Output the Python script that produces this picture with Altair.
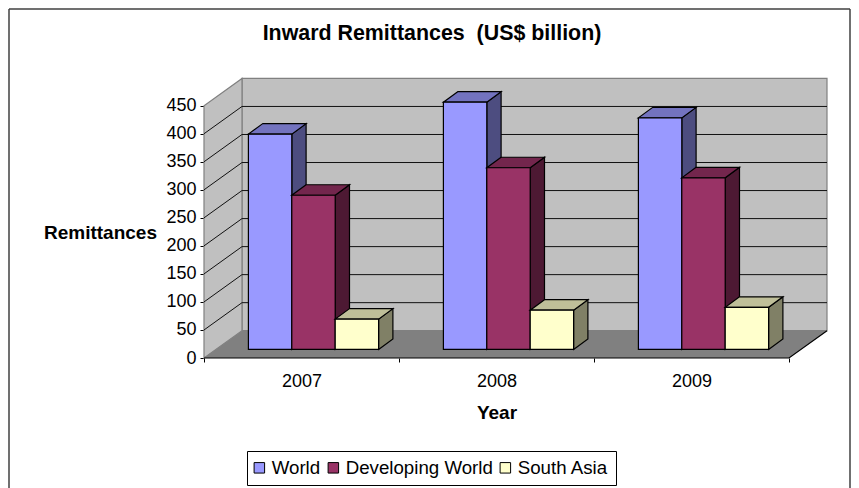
import altair as alt
import pandas as pd

years = [2007, 2008, 2009]
series = ["World", "Developing World", "South Asia"]
world = [384, 441, 413]
developing = [275, 324, 306]
south_asia = [54, 70, 75]
values = [world, developing, south_asia]
front_colors = ["#9999FF", "#993366", "#FFFFCC"]
top_colors = ["#7373BF", "#73264D", "#BFBF99"]
side_colors = ["#4D4D80", "#4D1933", "#808066"]
y_ticks = list(range(0, 451, 50))

FONT = "Liberation Sans"
W, H = 623, 279
CAT = 195.0                # px per category
PX = 28.03 / 50            # px per value unit
X_MAX = W / CAT
Y_MAX = H / PX
WALL_X, WALL_Y = 38 / CAT, 27.3 / PX      # depth of the floor
OFF_X, OFF_Y = 12 / CAT, 8.6 / PX         # bars' inset from the floor's front edge
BAR_W = 43.4 / CAT
BAR_X, BAR_Y = 14.3 / CAT, 10.5 / PX      # depth of a bar
GAP = (1 - 3 * BAR_W) / 2

x_scale = alt.Scale(domain=[0, X_MAX], nice=False, zero=False)
y_scale = alt.Scale(domain=[0, Y_MAX], nice=False, zero=False)
x_axis = alt.Axis(
    values=[0, 0.5, 1, 1.5, 2, 2.5, 3], grid=False, domain=False,
    labelExpr="datum.value % 1 == 0 ? '' : '' + (2007 + floor(datum.value))",
    labelFont=FONT, labelFontSize=18, labelColor="black", labelPadding=10,
    tickColor="black", tickSize=4, tickWidth=1,
    tickOpacity={"condition": {"test": "datum.value % 1 == 0", "value": 1}, "value": 0},
    title="Year", titleFont=FONT, titleFontSize=19, titleFontWeight="bold",
    titleColor="black", titleX=292.5, titleY=54, titleAlign="center", titleBaseline="middle")
y_axis = alt.Axis(
    values=y_ticks, grid=False, domain=False,
    labelFont=FONT, labelFontSize=18, labelColor="black", labelPadding=4,
    tickColor="black", tickSize=4, tickWidth=1,
    title="Remittances", titleFont=FONT, titleFontSize=19, titleFontWeight="bold",
    titleColor="black", titleAngle=0, titleX=-104, titleY=153,
    titleAlign="center", titleBaseline="middle")
X = lambda f: alt.X(f, type="quantitative", scale=x_scale, axis=x_axis)
Y = lambda f: alt.Y(f, type="quantitative", scale=y_scale, axis=y_axis)

top_v = 450
# walls
back = pd.DataFrame({"x": [WALL_X], "x2": [X_MAX], "y": [WALL_Y], "y2": [top_v + WALL_Y]})
side_wall = pd.DataFrame({"x": [0, WALL_X], "y": [0, WALL_Y], "y2": [top_v, top_v + WALL_Y]})
floor = pd.DataFrame({"y": [0, WALL_Y], "x": [0, WALL_X], "x2": [3, 3 + WALL_X]})

layers = []
wall_stroke = {"stroke": "#808080", "strokeWidth": 1.2}
layers.append(alt.Chart(back).mark_rect(fill="#C0C0C0", **wall_stroke).encode(
    x=X("x"), x2="x2:Q", y=Y("y"), y2="y2:Q"))
layers.append(alt.Chart(side_wall).mark_area(orient="vertical", fill="#C0C0C0", **wall_stroke).encode(
    x=X("x"), y=Y("y"), y2="y2:Q"))
layers.append(alt.Chart(floor).mark_area(orient="horizontal", fill="#808080").encode(
    y=Y("y"), x=X("x"), x2="x2:Q"))

# gridlines on back and side wall
grid_rows = []
for v in y_ticks[1:-1]:
    grid_rows += [
        {"v": v, "x": 0, "y": v},
        {"v": v, "x": WALL_X, "y": v + WALL_Y},
        {"v": v, "x": X_MAX, "y": v + WALL_Y},
    ]
layers.append(alt.Chart(pd.DataFrame(grid_rows)).mark_line(color="#111111", strokeWidth=1).encode(
    x=X("x"), y=Y("y"), detail="v:N"))

# floor edges
edge = pd.DataFrame({"x": [0, 3, 3 + WALL_X], "y": [0, 0, WALL_Y]})
layers.append(alt.Chart(edge).mark_line(color="black", strokeWidth=1.2, clip=False).encode(
    x=X("x"), y=Y("y"), order="x:Q"))

# bars
legend = alt.Legend(
    title=None, orient="none", legendX=43, legendY=372, direction="horizontal",
    strokeColor="black", fillColor="white", padding=7, columnPadding=5,
    symbolType="square", symbolSize=110, symbolStrokeColor="black", symbolStrokeWidth=1,
    symbolOffset=-4, labelFont=FONT, labelFontSize=18.7, labelColor="black", labelOffset=3)
color = alt.Color("series:N", scale=alt.Scale(domain=series, range=front_colors), legend=legend)

for j, name in enumerate(series):
    front, side, top = [], [], []
    for i, year in enumerate(years):
        v = values[j][i]
        x0 = i + OFF_X + GAP + j * BAR_W
        x1 = x0 + BAR_W
        front.append({"series": name, "x": x0, "x2": x1, "y": OFF_Y, "y2": OFF_Y + v})
        side += [
            {"bar": year, "x": x1, "y": OFF_Y, "y2": OFF_Y + v},
            {"bar": year, "x": x1 + BAR_X, "y": OFF_Y + BAR_Y, "y2": OFF_Y + v + BAR_Y},
        ]
        top += [
            {"bar": year, "y": OFF_Y + v, "x": x0, "x2": x1},
            {"bar": year, "y": OFF_Y + v + BAR_Y, "x": x0 + BAR_X, "x2": x1 + BAR_X},
        ]
    bar_style = {"stroke": "black", "strokeWidth": 1.2}
    layers.append(alt.Chart(pd.DataFrame(side)).mark_area(orient="vertical", fill=side_colors[j], **bar_style).encode(
        x=X("x"), y=Y("y"), y2="y2:Q", detail="bar:N"))
    layers.append(alt.Chart(pd.DataFrame(top)).mark_area(orient="horizontal", fill=top_colors[j], **bar_style).encode(
        y=Y("y"), x=X("x"), x2="x2:Q", detail="bar:N"))
    layers.append(alt.Chart(pd.DataFrame(front)).mark_rect(**bar_style).encode(
        x=X("x"), x2="x2:Q", y=Y("y"), y2="y2:Q", fill=color))

# outer frame of the chart
one = pd.DataFrame({"a": [0]})
frame = {"color": "#404040", "strokeWidth": 1.5}
layers.append(alt.Chart(one).mark_rule(**frame).encode(x=alt.value(-195), y=alt.value(-70), y2=alt.value(409)))
layers.append(alt.Chart(one).mark_rule(**frame).encode(x=alt.value(-195), x2=alt.value(646), y=alt.value(-70)))
layers.append(alt.Chart(one).mark_rule(**frame).encode(x=alt.value(646), y=alt.value(-70), y2=alt.value(409)))

chart = alt.layer(*layers).properties(
    width=W, height=H,
    autosize=alt.AutoSizeParams(type="none"),
    padding={"left": 196, "top": 71, "right": 24, "bottom": 130},
    background="white",
    title=alt.TitleParams("Inward Remittances \u00a0(US$ billion)", font=FONT, fontSize=21.4, fontWeight="bold",
                          color="black", anchor="middle", frame="group", dx=-83.5, offset=0, dy=36),
).configure_view(stroke=None)

chart.save("out.html", embed_options={"renderer": "svg", "actions": False})
